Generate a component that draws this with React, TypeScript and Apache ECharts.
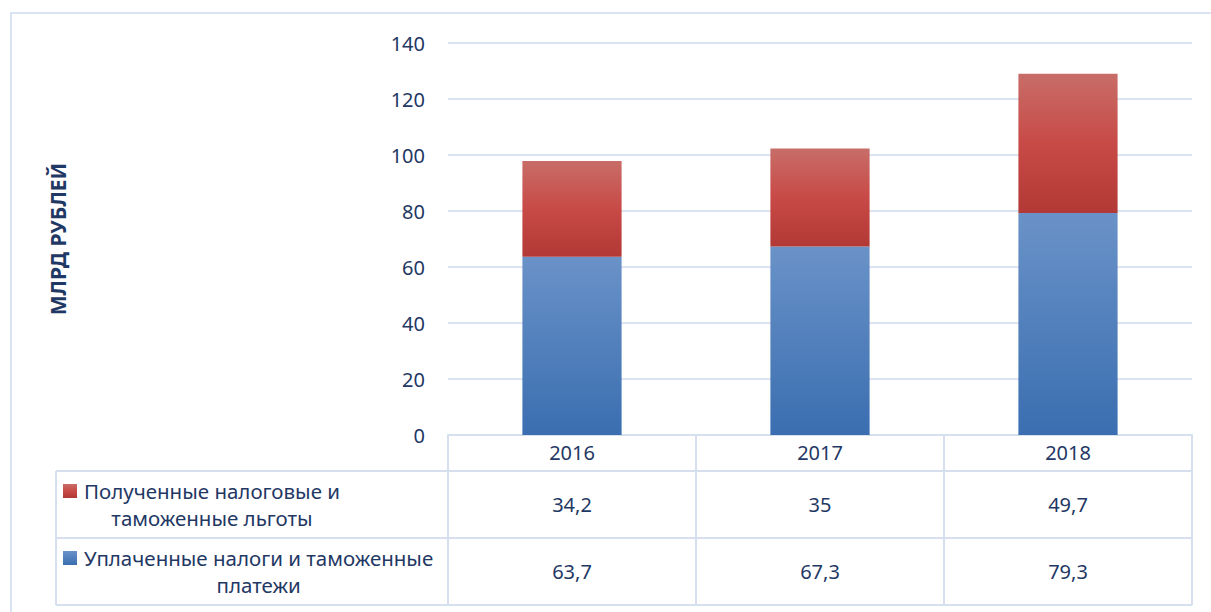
import React, { useEffect, useRef } from "react";
import * as echarts from "echarts";

const years = ["2016", "2017", "2018"];
const paidTaxes = [63.7, 67.3, 79.3];
const taxBenefits = [34.2, 35, 49.7];
const seriesPaidName = "Уплаченные налоги и таможенные платежи";
const seriesBenefitName = "Полученные налоговые и таможенные льготы";
const benefitLabelLines = ["Полученные налоговые и", "таможенные льготы"];
const paidLabelLines = ["Уплаченные налоги и таможенные", "платежи"];
const yMin = 0;
const yMax = 140;
const yInterval = 20;
const yAxisTitle = "МЛРД РУБЛЕЙ";

const FONT = "'Noto Sans', sans-serif";
const TEXT = "#1F3864";
const LINE = "#D5DFEE";
const FS = 20;

const blueGrad = () =>
  new echarts.graphic.LinearGradient(0, 0, 0, 1, [
    { offset: 0, color: "#6A92C8" },
    { offset: 1, color: "#3A6EB0" },
  ]);
const redGrad = () =>
  new echarts.graphic.LinearGradient(0, 0, 0, 1, [
    { offset: 0, color: "#C86D68" },
    { offset: 0.5, color: "#C84A47" },
    { offset: 1, color: "#B23935" },
  ]);

const fmt = (v: number) => String(v).replace(".", ",");

function measure(text: string, font: string) {
  const c = document.createElement("canvas").getContext("2d")!;
  c.font = font;
  return c.measureText(text).width;
}

export default function App() {
  const ref = useRef<HTMLDivElement>(null);
  useEffect(() => {
    if (!ref.current) return;
    const chart = echarts.init(ref.current, null, { renderer: "svg" });
    chart.setOption({
      animation: false,
      backgroundColor: "#fff",
      grid: { left: 448, right: 19, top: 43, bottom: 177 },
      xAxis: {
        type: "category",
        data: years,
        axisLine: { show: true, lineStyle: { color: LINE, width: 2 } },
        axisTick: { show: false },
        axisLabel: {
          color: TEXT,
          fontFamily: FONT,
          fontSize: FS,
          margin: 7,
        },
      },
      yAxis: {
        type: "value",
        min: yMin,
        max: yMax,
        interval: yInterval,
        name: yAxisTitle,
        nameLocation: "middle",
        nameRotate: 90,
        nameGap: 380,
        nameTextStyle: {
          color: TEXT,
          fontFamily: FONT,
          fontWeight: "bold",
          fontSize: 21,
        },
        axisLine: { show: false },
        axisTick: { show: false },
        axisLabel: { color: TEXT, fontFamily: FONT, fontSize: FS, margin: 23 },
        splitLine: { lineStyle: { color: "#D9E3F2", width: 2 } },
      },
      series: [
        {
          name: seriesPaidName,
          type: "bar",
          stack: "total",
          data: paidTaxes,
          barWidth: "40%",
          itemStyle: { color: blueGrad() },
        },
        {
          name: seriesBenefitName,
          type: "bar",
          stack: "total",
          data: taxBenefits,
          barWidth: "40%",
          itemStyle: { color: redGrad() },
        },
      ],
    });

    // build data table from axis geometry
    const c0 = chart.convertToPixel({ xAxisIndex: 0 }, years[0]) as number;
    const c1 = chart.convertToPixel({ xAxisIndex: 0 }, years[1]) as number;
    const band = c1 - c0;
    const colLeft = c0 - band / 2;
    const colRight = colLeft + band * years.length;
    const y0 = chart.convertToPixel({ yAxisIndex: 0 }, 0) as number;
    const headerBottom = y0 + 36;
    const rowH = 67;
    const tableBottom = headerBottom + rowH * 2;
    const tableLeft = 56;
    const lineStyle = { stroke: LINE, lineWidth: 2 };
    const els: any[] = [];

    els.push({
      type: "rect",
      shape: { x: 11, y: 13, width: 1400, height: 800 },
      style: { fill: "none", stroke: "#D9E3F2", lineWidth: 2 },
      silent: true,
    });
    els.push({ type: "line", shape: { x1: tableLeft, y1: headerBottom, x2: colRight, y2: headerBottom }, style: lineStyle });
    els.push({ type: "line", shape: { x1: tableLeft, y1: headerBottom + rowH, x2: colRight, y2: headerBottom + rowH }, style: lineStyle });
    els.push({ type: "line", shape: { x1: tableLeft, y1: tableBottom, x2: colRight, y2: tableBottom }, style: lineStyle });
    els.push({ type: "line", shape: { x1: tableLeft, y1: headerBottom, x2: tableLeft, y2: tableBottom }, style: lineStyle });
    for (let i = 0; i <= years.length; i++) {
      const x = colLeft + band * i;
      els.push({ type: "line", shape: { x1: x, y1: y0, x2: x, y2: tableBottom }, style: lineStyle });
    }

    const rows = [
      { lines: benefitLabelLines, values: taxBenefits, grad: redGrad() },
      { lines: paidLabelLines, values: paidTaxes, grad: blueGrad() },
    ];
    const legendFs = 20.5;
    const font = `${FS}px 'Noto Sans', sans-serif`;
    const legendFont = `${legendFs}px 'Noto Sans', sans-serif`;
    const lh = 27;
    rows.forEach((r, ri) => {
      const top = headerBottom + rowH * ri;
      const mid = top + rowH / 2;
      const firstLineY = mid - lh / 2;
      const blockW = Math.max(...r.lines.map((l) => measure(l, legendFont)));
      const textX = 84;
      els.push({
        type: "rect",
        shape: { x: 63, y: firstLineY - 7, width: 14, height: 14 },
        style: { fill: r.grad },
      });
      r.lines.forEach((l, li) => {
        els.push({
          type: "text",
          style: {
            text: l,
            x: textX + blockW / 2,
            y: firstLineY + li * lh,
            align: "center",
            verticalAlign: "middle",
            fill: TEXT,
            font: legendFont,
          },
        });
      });
      r.values.forEach((v, ci) => {
        const cx = chart.convertToPixel({ xAxisIndex: 0 }, years[ci]) as number;
        els.push({
          type: "text",
          style: {
            text: fmt(v),
            x: cx,
            y: mid,
            align: "center",
            verticalAlign: "middle",
            fill: TEXT,
            font,
          },
        });
      });
    });

    chart.setOption({ graphic: { elements: els } });
    return () => chart.dispose();
  }, []);
  return (
    <div
      ref={ref}
      style={{ position: "fixed", left: 0, top: 0, width: 1211, height: 612 }}
    />
  );
}
